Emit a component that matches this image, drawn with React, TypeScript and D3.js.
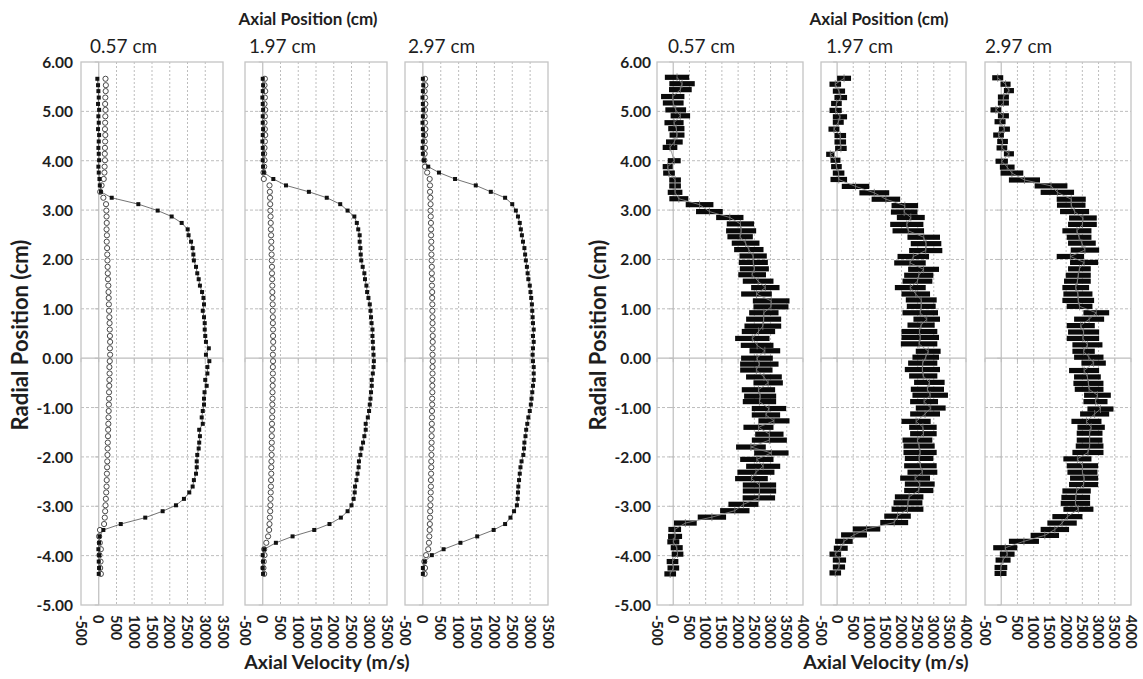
import React from 'react';
import * as d3 from 'd3';

// ---------- data ----------
const PANEL_TITLES = ['0.57 cm', '1.97 cm', '2.97 cm'];
const Y_TICKS = [6, 5, 4, 3, 2, 1, 0, -1, -2, -3, -4, -5];
const LEFT_X_TICKS = [-500, 0, 500, 1000, 1500, 2000, 2500, 3000, 3500];
const RIGHT_X_TICKS = [-500, 0, 500, 1000, 1500, 2000, 2500, 3000, 3500, 4000];

// radial positions of the left-group measurements (cm)
const R_LEFT = [
  5.66, 5.53, 5.41, 5.28, 5.15, 5.03, 4.90, 4.77, 4.64, 4.52,
  4.39, 4.26, 4.14, 4.01, 3.88, 3.76, 3.63, 3.50, 3.37, 3.25,
  3.12, 2.99, 2.87, 2.74, 2.61, 2.49, 2.36, 2.23, 2.10, 1.98,
  1.85, 1.72, 1.60, 1.47, 1.34, 1.22, 1.09, 0.96, 0.83, 0.71,
  0.58, 0.45, 0.33, 0.20, 0.07, -0.06, -0.18, -0.31, -0.44, -0.56,
  -0.69, -0.82, -0.94, -1.07, -1.20, -1.33, -1.45, -1.58, -1.71, -1.83,
  -1.96, -2.09, -2.21, -2.34, -2.47, -2.60, -2.72, -2.85, -2.98, -3.10,
  -3.23, -3.36, -3.48, -3.61, -3.74, -3.87, -3.99, -4.12, -4.25, -4.37,
];

// left group: open circles
const L1_OPEN = [
  190, 200, 195, 185, 180, 190, 185, 180, 175, 185,
  180, 175, 170, 175, 165, 160, 140, 80, 40, 130,
  205, 215, 220, 225, 220, 230, 225, 235, 240, 245,
  250, 255, 260, 270, 275, 280, 285, 290, 300, 305,
  310, 315, 320, 315, 320, 310, 300, 305, 300, 295,
  290, 290, 285, 280, 275, 270, 265, 260, 255, 250,
  245, 240, 235, 230, 225, 220, 210, 200, 190, 180,
  170, 150, 35, 10, 30, 60, 20, 50, 40, 60,
];
const L2_OPEN = [
  60, 50, 70, 60, 50, 70, 60, 50, 60, 70,
  60, 50, 40, 50, 40, 20, 30, 190, 200, 205,
  210, 215, 220, 225, 230, 235, 240, 245, 250, 255,
  260, 260, 265, 270, 270, 275, 280, 280, 285, 285,
  290, 290, 295, 290, 285, 290, 285, 285, 280, 280,
  275, 275, 270, 270, 265, 260, 260, 255, 255, 250,
  250, 245, 240, 240, 235, 230, 225, 220, 215, 210,
  200, 190, 180, 150, 100, 40, 50, 30, 20, 40,
];
const L3_OPEN = [
  60, 70, 50, 60, 70, 60, 50, 60, 70, 60,
  50, 60, 50, 40, 60, 120, 190, 200, 200, 210,
  215, 215, 220, 225, 230, 230, 235, 240, 240, 245,
  250, 250, 255, 255, 260, 260, 265, 265, 270, 270,
  270, 275, 275, 270, 270, 275, 270, 270, 265, 265,
  265, 260, 260, 255, 255, 250, 250, 245, 245, 240,
  240, 235, 235, 230, 225, 225, 220, 215, 210, 205,
  200, 195, 190, 180, 170, 150, 90, 40, 60, 50,
];

// left group: filled squares (velocity profile)
const L1_FILLED = [
  -40, -20, -10, 0, -20, 10, -10, 0, -20, 10,
  0, -10, 0, 10, -10, 0, 20, 30, 60, 365,
  1115, 1660, 2054, 2336, 2505, 2530, 2600, 2645, 2665, 2680,
  2740, 2775, 2815, 2850, 2910, 2950, 2965, 2930, 2965, 2985,
  2985, 3000, 3020, 3100, 3020, 3115, 3060, 3060, 3000, 3040,
  2980, 2965, 2965, 2930, 2900, 2930, 2830, 2850, 2830, 2815,
  2775, 2760, 2760, 2740, 2680, 2645, 2550, 2400, 2175, 1800,
  1310, 620, 130, 20, 10, -10, 10, 0, 10, 0,
];
const L2_FILLED = [
  0, 10, 0, -10, 0, 10, 0, 0, 10, 0,
  -10, 0, 10, 0, 10, 30, 298, 655, 1300, 1803,
  2182, 2390, 2580, 2650, 2690, 2730, 2730, 2750, 2760, 2775,
  2815, 2862, 2880, 2920, 2940, 2977, 3015, 3035, 3050, 3065,
  3090, 3090, 3100, 3110, 3120, 3130, 3120, 3100, 3070, 3070,
  3050, 3035, 3015, 2995, 2960, 2900, 2900, 2862, 2825, 2780,
  2750, 2710, 2700, 2670, 2640, 2600, 2590, 2560, 2500, 2390,
  2200, 1880, 1450, 840, 370, 40, 0, 10, 0, 10,
];
const L3_FILLED = [
  0, 10, 0, -10, 0, 10, 0, -10, 0, 10,
  0, -10, 0, 30, 150, 450, 900, 1480, 1900, 2300,
  2500, 2600, 2660, 2710, 2740, 2770, 2800, 2840, 2860, 2880,
  2910, 2930, 2950, 2990, 3010, 3030, 3050, 3060, 3070, 3080,
  3100, 3080, 3100, 3080, 3070, 3080, 3100, 3100, 3100, 3080,
  3060, 3040, 3020, 2990, 2950, 2920, 2890, 2870, 2840, 2830,
  2810, 2760, 2730, 2710, 2690, 2670, 2660, 2650, 2630, 2550,
  2450, 2300, 1980, 1520, 1050, 580, 250, 50, 0, 0,
];

// right group: panel 1 (0.57 cm) radial position, mean velocity, error half-width
const RB1_POS = [
  5.69, 5.56, 5.44, 5.30, 5.17, 5.03, 4.91, 4.77, 4.65, 4.52,
  4.38, 4.27, 4.00, 3.88, 3.75, 3.61, 3.49, 3.36, 3.23, 3.11,
  2.97, 2.85, 2.72, 2.58, 2.46, 2.33, 2.20, 2.07, 1.94, 1.81,
  1.69, 1.56, 1.43, 1.30, 1.16, 1.04, 0.92, 0.79, 0.65, 0.54,
  0.40, 0.26, 0.15, 0.00, -0.12, -0.24, -0.38, -0.50, -0.64, -0.77,
  -0.88, -1.02, -1.15, -1.27, -1.40, -1.54, -1.66, -1.80, -1.92, -2.05,
  -2.19, -2.31, -2.44, -2.57, -2.69, -2.83, -2.96, -3.09, -3.22, -3.34,
  -3.47, -3.61, -3.72, -3.84, -3.97, -4.12, -4.25, -4.37,
];
const RB1_VEL = [
  117, 272, 220, -15, 0, 77, 220, 25, 96, 117,
  35, -99, 31, -170, -130, 57, 57, 57, 173, 812,
  1115, 1744, 2071, 2093, 2062, 2231, 2330, 2463, 2469, 2500,
  2432, 2617, 2839, 2566, 3019, 3012, 2793, 2787, 2762, 2627,
  2438, 2586, 2824, 2581, 2654, 2562, 2796, 2926, 2627, 2679,
  2658, 2951, 2858, 3105, 2627, 2963, 2963, 2395, 3025, 2577,
  2772, 2549, 2411, 2658, 2658, 2640, 2164, 1898, 1192, 374,
  46, 57, 3, 108, 133, -22, 3, -93,
];
const RB1_ERR = [
  375, 392, 350, 360, 320, 320, 300, 295, 250, 230,
  257, 226, 200, 155, 180, 180, 180, 226, 293, 427,
  412, 421, 421, 463, 392, 427, 453, 421, 448, 448,
  427, 473, 437, 473, 565, 540, 453, 540, 566, 514,
  530, 504, 473, 489, 592, 499, 551, 453, 514, 494,
  514, 530, 437, 479, 463, 437, 540, 458, 530, 514,
  525, 571, 504, 514, 514, 500, 463, 453, 437, 350,
  196, 216, 185, 185, 180, 180, 180, 180,
];

// right group: panel 2 (1.97 cm)
const RB2_POS = [
  5.67, 5.55, 5.41, 5.28, 5.16, 5.02, 4.89, 4.78, 4.64, 4.51,
  4.38, 4.25, 4.13, 4.01, 3.88, 3.75, 3.62, 3.48, 3.35, 3.22,
  3.09, 2.96, 2.85, 2.71, 2.58, 2.45, 2.32, 2.18, 2.06, 1.93,
  1.80, 1.68, 1.56, 1.43, 1.30, 1.18, 1.05, 0.92, 0.79, 0.67,
  0.54, 0.42, 0.29, 0.14, 0.02, -0.10, -0.23, -0.36, -0.49, -0.63,
  -0.75, -0.88, -1.01, -1.13, -1.28, -1.40, -1.53, -1.66, -1.78, -1.91,
  -2.03, -2.18, -2.31, -2.43, -2.55, -2.68, -2.81, -2.93, -3.06, -3.20,
  -3.33, -3.46, -3.58, -3.71, -3.85, -3.97, -4.09, -4.23, -4.35,
];
const RB2_VEL = [
  216, -57, 57, 113, -21, -46, 88, 36, -98, 98,
  98, 118, -211, -51, -21, 46, 52, 572, 1154, 1514,
  2101, 2081, 2287, 2163, 2209, 2688, 2760, 2750, 2364, 2261,
  2683, 2534, 2493, 2271, 2441, 2611, 2611, 2580, 2781, 2606,
  2554, 2580, 2544, 2827, 2750, 2657, 2647, 2673, 2863, 2802,
  2889, 2699, 2905, 2730, 2451, 2663, 2678, 2493, 2544, 2575,
  2544, 2585, 2647, 2420, 2565, 2534, 2235, 2199, 2184, 1875,
  1772, 912, 525, 211, 113, -57, 72, 57, -57,
];
const RB2_ERR = [
  216, 180, 190, 196, 165, 190, 221, 170, 170, 180,
  180, 180, 129, 155, 165, 180, 257, 427, 463, 443,
  412, 412, 433, 515, 489, 505, 474, 515, 489, 489,
  479, 453, 463, 479, 443, 479, 448, 551, 412, 422,
  556, 582, 566, 386, 412, 453, 546, 438, 474, 515,
  551, 433, 463, 463, 453, 427, 412, 463, 484, 515,
  443, 505, 463, 463, 463, 453, 443, 448, 494, 412,
  433, 427, 402, 273, 216, 180, 206, 190, 180,
];

// right group: panel 3 (2.97 cm)
const RB3_POS = [
  5.68, 5.55, 5.42, 5.29, 5.17, 5.03, 4.91, 4.79, 4.64, 4.52,
  4.39, 4.26, 4.14, 3.99, 3.87, 3.75, 3.61, 3.49, 3.36, 3.22,
  3.10, 2.97, 2.84, 2.71, 2.58, 2.45, 2.33, 2.19, 2.06, 1.94,
  1.81, 1.68, 1.56, 1.43, 1.30, 1.17, 1.05, 0.92, 0.79, 0.66,
  0.53, 0.40, 0.27, 0.14, 0.02, -0.10, -0.25, -0.38, -0.51, -0.63,
  -0.75, -0.88, -1.03, -1.13, -1.28, -1.40, -1.52, -1.66, -1.78, -1.91,
  -2.04, -2.18, -2.31, -2.43, -2.56, -2.69, -2.82, -2.94, -3.06, -3.21,
  -3.34, -3.47, -3.59, -3.71, -3.84, -3.97, -4.09, -4.24, -4.36,
];
const RB3_VEL = [
  -108, 134, 237, 67, 67, -165, 67, -36, 98, -82,
  41, 21, 237, 15, 185, 330, 716, 1535, 1730, 2158,
  2158, 2261, 2518, 2503, 2333, 2400, 2487, 2580, 2132, 2554,
  2410, 2374, 2348, 2297, 2364, 2374, 2415, 2930, 2709, 2451,
  2539, 2518, 2657, 2539, 2699, 2848, 2554, 2657, 2688, 2709,
  2966, 2905, 3059, 2879, 2627, 2771, 2724, 2724, 2724, 2673,
  2348, 2503, 2503, 2554, 2539, 2323, 2297, 2287, 2379, 2039,
  1875, 1653, 1344, 700, 124, 185, 57, -10, -21,
];
const RB3_ERR = [
  170, 155, 155, 170, 170, 165, 170, 170, 170, 165,
  165, 165, 155, 190, 227, 350, 479, 505, 515, 448,
  440, 448, 427, 443, 448, 381, 427, 438, 422, 433,
  350, 386, 412, 412, 448, 489, 397, 397, 463, 433,
  479, 500, 463, 345, 453, 376, 463, 412, 463, 443,
  412, 371, 402, 448, 463, 422, 397, 397, 427, 479,
  433, 484, 463, 433, 448, 438, 443, 453, 463, 463,
  453, 438, 438, 463, 371, 227, 232, 196, 185,
];

// ---------- layout ----------
const Y_TOP = 62;
const Y_BOTTOM = 605;
const LEFT_PANELS = [[81, 223], [245, 387], [405, 548]];
const RIGHT_PANELS = [[657, 803], [821, 966], [985, 1131]];
const LEFT_TITLE_X = [90, 249, 408];
const RIGHT_TITLE_X = [668, 826, 985];
const FONT = 'Lato, "Open Sans", "DejaVu Sans", sans-serif';
const GRID = '#bdbdbd';
const INK = '#1e1e1e';

const yScale = d3.scaleLinear().domain([-5, 6]).range([Y_BOTTOM, Y_TOP]);

function Frame({ x, ticks }: { x: d3.ScaleLinear<number, number>; ticks: number[] }) {
  const [x0, x1] = x.range();
  return (
    <g>
      {Y_TICKS.filter((t) => t !== 0 && t !== 6 && t !== -5).map((t) => (
        <line key={'h' + t} x1={x0} x2={x1} y1={yScale(t)} y2={yScale(t)}
          stroke={GRID} strokeWidth={1} strokeDasharray="3,2" />
      ))}
      {ticks.filter((t) => t !== 0 && t !== ticks[0] && t !== ticks[ticks.length - 1]).map((t) => (
        <line key={'v' + t} x1={x(t)} x2={x(t)} y1={Y_TOP} y2={Y_BOTTOM}
          stroke={GRID} strokeWidth={1} strokeDasharray="2,2" />
      ))}
      {/* axes through zero */}
      <line x1={x0} x2={x1} y1={yScale(0)} y2={yScale(0)} stroke={GRID} strokeWidth={1.2} />
      <line x1={x(0)} x2={x(0)} y1={Y_TOP} y2={Y_BOTTOM} stroke={GRID} strokeWidth={1.2} />
      {Y_TICKS.map((t) => (
        <line key={'yt' + t} x1={x(0) - 4} x2={x(0)} y1={yScale(t)} y2={yScale(t)} stroke={GRID} />
      ))}
      {ticks.map((t) => (
        <line key={'xt' + t} x1={x(t)} x2={x(t)} y1={yScale(0)} y2={yScale(0) + 4} stroke={GRID} />
      ))}
      <rect x={x0} y={Y_TOP} width={x1 - x0} height={Y_BOTTOM - Y_TOP}
        fill="none" stroke="#c4c4c4" strokeWidth={1.3} />
    </g>
  );
}

function XTickLabels({ x, ticks }: { x: d3.ScaleLinear<number, number>; ticks: number[] }) {
  return (
    <g>
      {ticks.map((t) => (
        <text key={t} transform={`translate(${x(t)},${Y_BOTTOM + 10}) rotate(90)`}
          textAnchor="start" dominantBaseline="central"
          fontFamily={FONT} fontWeight={700} fontSize={14.5} fill={INK}>
          {t}
        </text>
      ))}
    </g>
  );
}

function YTickLabels({ xr }: { xr: number }) {
  return (
    <g>
      {Y_TICKS.map((t) => (
        <text key={t} x={xr} y={yScale(t)} textAnchor="end" dominantBaseline="central"
          fontFamily={FONT} fontWeight={700} fontSize={15.5} fill={INK}>
          {t.toFixed(2)}
        </text>
      ))}
    </g>
  );
}

function LeftPanel({ range, open, filled }: { range: number[]; open: number[]; filled: number[] }) {
  const x = d3.scaleLinear().domain([-500, 3500]).range(range);
  const line = d3.line<number>().x((v) => x(v)).y((_, i) => yScale(R_LEFT[i]));
  return (
    <g>
      <Frame x={x} ticks={LEFT_X_TICKS} />
      {open.map((v, i) => (
        <circle key={'o' + i} cx={x(v)} cy={yScale(R_LEFT[i])} r={2.6}
          fill="#fff" stroke="#4a4a4a" strokeWidth={1} />
      ))}
      <path d={line(filled) || ''} fill="none" stroke="#505050" strokeWidth={0.8} />
      {filled.map((v, i) => (
        <rect key={'f' + i} x={x(v) - 2} y={yScale(R_LEFT[i]) - 2} width={4} height={4} fill="#111" />
      ))}
      <XTickLabels x={x} ticks={LEFT_X_TICKS} />
    </g>
  );
}

function RightPanel({ range, pos, vel, err }: { range: number[]; pos: number[]; vel: number[]; err: number[] }) {
  const x = d3.scaleLinear().domain([-500, 4000]).range(range);
  const line = d3.line<number>().x((v) => x(v)).y((_, i) => yScale(pos[i]));
  return (
    <g>
      <Frame x={x} ticks={RIGHT_X_TICKS} />
      {vel.map((v, i) => (
        <rect key={'b' + i} x={x(v - err[i])} y={yScale(pos[i]) - 2.6}
          width={x(v + err[i]) - x(v - err[i])} height={5.2} fill="#0a0a0a" />
      ))}
      <path d={line(vel) || ''} fill="none" stroke="#8a8a8a" strokeWidth={0.8} />
      {vel.map((v, i) => (
        <line key={'c' + i} x1={x(v)} x2={x(v)} y1={yScale(pos[i]) - 4} y2={yScale(pos[i]) + 4}
          stroke="#777" strokeWidth={0.8} />
      ))}
      <XTickLabels x={x} ticks={RIGHT_X_TICKS} />
    </g>
  );
}

export default function App() {
  const leftOpen = [L1_OPEN, L2_OPEN, L3_OPEN];
  const leftFilled = [L1_FILLED, L2_FILLED, L3_FILLED];
  const rightData = [
    [RB1_POS, RB1_VEL, RB1_ERR],
    [RB2_POS, RB2_VEL, RB2_ERR],
    [RB3_POS, RB3_VEL, RB3_ERR],
  ];
  const titleStyle = { fontFamily: FONT, fontWeight: 700, fill: INK } as const;
  return (
    <svg width={1143} height={679} style={{ position: 'absolute', left: 0, top: 0, background: '#fff' }}>
      <rect x={0} y={0} width={1143} height={679} fill="#fff" />
      {/* group titles */}
      <text x={308} y={25} textAnchor="middle" fontSize={17} {...titleStyle}>Axial Position (cm)</text>
      <text x={879} y={25} textAnchor="middle" fontSize={17} {...titleStyle}>Axial Position (cm)</text>
      <text x={327} y={669} textAnchor="middle" fontSize={19.5} {...titleStyle}>Axial Velocity (m/s)</text>
      <text x={886} y={669} textAnchor="middle" fontSize={19.5} {...titleStyle}>Axial Velocity (m/s)</text>
      <text transform="translate(28,335) rotate(-90)" textAnchor="middle" fontSize={22} {...titleStyle}>Radial Position (cm)</text>
      <text transform="translate(606,335) rotate(-90)" textAnchor="middle" fontSize={22} {...titleStyle}>Radial Position (cm)</text>

      {PANEL_TITLES.map((t, i) => (
        <text key={'lt' + i} x={LEFT_TITLE_X[i]} y={53} fontFamily={FONT} fontSize={19} fill={INK}>{t}</text>
      ))}
      {PANEL_TITLES.map((t, i) => (
        <text key={'rt' + i} x={RIGHT_TITLE_X[i]} y={53} fontFamily={FONT} fontSize={19} fill={INK}>{t}</text>
      ))}

      <YTickLabels xr={73} />
      <YTickLabels xr={651} />

      {LEFT_PANELS.map((r, i) => (
        <LeftPanel key={'L' + i} range={r} open={leftOpen[i]} filled={leftFilled[i]} />
      ))}
      {RIGHT_PANELS.map((r, i) => (
        <RightPanel key={'R' + i} range={r} pos={rightData[i][0]} vel={rightData[i][1]} err={rightData[i][2]} />
      ))}
    </svg>
  );
}
